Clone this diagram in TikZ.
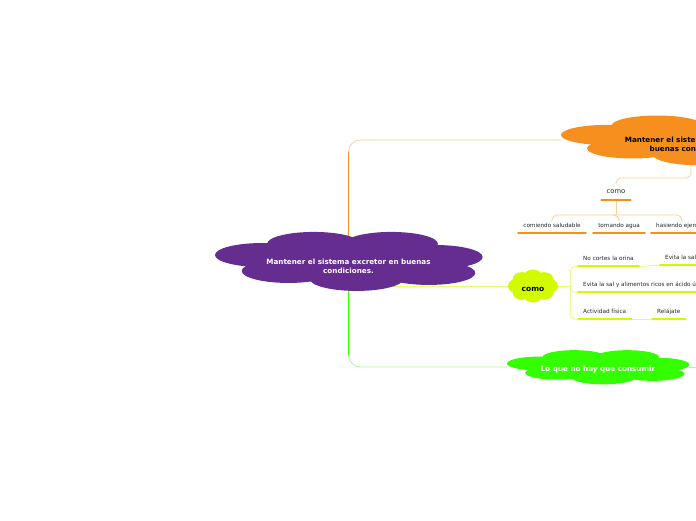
\documentclass[tikz,border=0pt]{standalone}
\usepackage{fontspec}
\setmainfont{DejaVu Sans}
\usetikzlibrary{positioning, backgrounds}
\definecolor{mmPurple}{RGB}{102,45,145}
\definecolor{mmOrange}{RGB}{247,143,30}
\definecolor{mmLime}{RGB}{210,250,0}
\definecolor{mmGreen}{RGB}{51,255,0}
\tikzset{
  cloudidea/.style={rectangle, inner sep=0pt, align=center, font=\bfseries\fontsize{7.2}{9}\selectfont},
  mainidea/.style={cloudidea, text=white, minimum width=267pt, minimum height=57pt},
  oidea/.style={cloudidea, text=black, minimum width=260pt, minimum height=48pt},
  lidea/.style={cloudidea, text=black, minimum width=50pt, minimum height=33pt, text height=11.7pt, text depth=1.7pt, font=\bfseries\fontsize{7.5}{9}\selectfont},
  gidea/.style={cloudidea, text=white, minimum width=182pt, minimum height=33pt, text height=10.5pt, text depth=1.7pt},
  topic/.style={font=\fontsize{5.7}{6.5}\selectfont, text=black!85, inner xsep=5pt, inner ysep=4.3pt, text height=4.4pt, text depth=1.2pt},
  ocomo/.style={topic, font=\fontsize{6.8}{7.5}\selectfont, inner ysep=4.5pt, text height=5.2pt, text depth=1.5pt},
  oline/.style={mmOrange, line width=2pt, line cap=round},
  lline/.style={mmLime, line width=2pt, line cap=round},
  opale/.style={mmOrange!45, line width=0.8pt, rounded corners=5pt},
  lpale/.style={mmLime!60, line width=0.8pt, rounded corners=5pt},
  gpale/.style={mmGreen!45, line width=0.8pt, rounded corners=12pt}
}
% nube de elipses: nodo, color, semiancho, semialto
\newcommand{\puffcloud}[4]{
  \begin{scope}[shift={(#1.center)}, x=#3pt, y=-#4pt]
    \fill[#2] (0,0) ellipse [x radius=0.72, y radius=0.62];
    \foreach \dx/\dy in {-0.65/-0.21, -0.26/-0.6, 0.32/-0.6, 0.655/-0.14,
                         0.6/0.42, 0.06/0.63, -0.45/0.35}
      \fill[#2] (\dx,\dy) ellipse [x radius=0.35, y radius=0.42];
  \end{scope}
}
% nube de flor para la idea pequena
\newcommand{\flowercloud}[4]{
  \begin{scope}[shift={(#1.center)}, x=#3pt, y=-#4pt]
    \fill[#2] (0,0) ellipse [x radius=0.7, y radius=0.7];
    \foreach \a in {0,45,...,315}
      \fill[#2] ({0.62*cos(\a)},{0.55*sin(\a)}) ellipse [x radius=0.38, y radius=0.45];
  \end{scope}
}
\begin{document}
\begin{tikzpicture}[x=1pt, y=-1pt]
  \useasboundingbox (0,0) rectangle (696,520);
  \clip (0,0) rectangle (696,520);

  % idea central
  \node[mainidea] (main) at (348.5,261) {\rule{0pt}{15.5pt}Mantener el sistema excretor en buenas\\condiciones.};

  % rama naranja
  \node[oidea] (oidea) at (691,140) {\rule{0pt}{13.5pt}Mantener el sistema excretor en\\buenas condiciones.};
  \node[ocomo] (ocomo) at (616,192) {como};
  \node[topic] (o1) at (552,226) {comiendo saludable};
  \node[topic] (o2) at (619,226) {tomando agua};
  \node[topic, anchor=west] (o3) at (651,226) {hasiendo ejercicio};

  % rama lima
  \node[lidea] (lidea) at (533,286) {como};
  \node[topic, anchor=west] (l1) at (578,259) {No cortes la orina};
  \node[topic, anchor=west] (l2) at (660,258) {Evita la sal};
  \node[topic, anchor=west] (l3) at (578,285) {Evita la sal y alimentos ricos en ácido úrico};
  \node[topic, anchor=west] (l4) at (578,312) {Actividad física};
  \node[topic, anchor=west] (l5) at (652,312) {Relájate};

  % rama verde
  \node[gidea] (gidea) at (598,367) {Lo que no hay que consumir};
  \coordinate (gexit) at (720,367);

  % subrayados
  \foreach \n in {ocomo,o1,o2,o3}
    \draw[oline] (\n.south west) -- (\n.south east);
  \foreach \n in {l1,l2,l3,l4,l5}
    \draw[lline] (\n.south west) -- (\n.south east);

  \begin{scope}[on background layer]
    % conexiones centrales
    \draw[mmOrange!45, line width=0.8pt, rounded corners=12pt] (main.center) |- (oidea.west);
    \draw[mmOrange, line width=1.8pt] (main.center) -- ([yshift=-12pt]main.center |- oidea.west);
    \draw[gpale] (main.center) |- (gidea.west);
    \draw[mmGreen, line width=1.8pt] (main.center) -- ([yshift=12pt]main.center |- gidea.west);
    \draw[lpale] (lidea.west) -- (lidea.west -| main.center);
    \draw[gpale] (gidea.east) -- (gexit);

    % rama naranja
    \draw[opale] (oidea.center) -- ++(0,38) -| (ocomo.north);
    \draw[opale] (ocomo.south) -- ++(0,15) coordinate (ojoin);
    \draw[opale] (ojoin) -| (o1.north);
    \draw[opale] (ojoin) -| (o3.north);
    \draw[opale] (ojoin) -| (o2.north);

    % rama lima
    \draw[lpale] (lidea.east) -- ++(12,0) coordinate (ljoin);
    \draw[lpale] (ljoin) |- (l1.south west);
    \draw[lpale] (ljoin) |- (l3.south west);
    \draw[lpale] (ljoin) |- (l4.south west);
    \draw[lpale] (l1.south east) to[out=0, in=180] (l2.south west);
    \draw[lpale] (l4.south east) -- (l5.south west);

    % nubes
    \puffcloud{main}{mmPurple}{133.5}{28.5}
    \puffcloud{oidea}{mmOrange}{130}{24}
    \puffcloud{gidea}{mmGreen}{91}{16.5}
    \flowercloud{lidea}{mmLime}{25}{16.5}
  \end{scope}
\end{tikzpicture}
\end{document}
